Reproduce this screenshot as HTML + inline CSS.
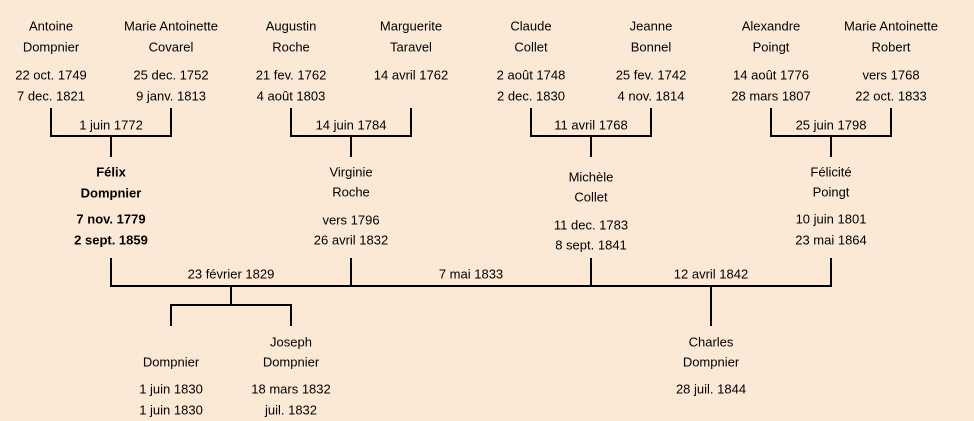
<!DOCTYPE html>
<html><head><meta charset="utf-8"><style>
html,body{margin:0;padding:0;background:#fbe9d6;}
svg{display:block}
text{font-family:"Liberation Sans",sans-serif;font-size:13px;fill:#000;text-anchor:middle;dominant-baseline:central}
.b{font-weight:bold}
</style></head><body>
<svg width="974" height="421" viewBox="0 0 974 421">
<rect width="974" height="421" fill="#fbe9d6"/>
<g stroke="#000" stroke-width="2" fill="none">
<path d="M51 108V136H171V108M111 136V157"/>
<path d="M291 108V136H411V108M351 136V157"/>
<path d="M531 108V136H651V108M591 136V157"/>
<path d="M771 108V136H891V108M831 136V157"/>
<path d="M111 258V286H831V258M351 258V286M591 258V286"/>
<path d="M231 286V305M171 326V305H291V326"/>
<path d="M711 286V326"/>
</g>
<text x="51" y="26">Antoine</text><text x="51" y="47">Dompnier</text>
<text x="51" y="75">22 oct. 1749</text><text x="51" y="96">7 dec. 1821</text>
<text x="171" y="26">Marie Antoinette</text><text x="171" y="47">Covarel</text>
<text x="171" y="75">25 dec. 1752</text><text x="171" y="96">9 janv. 1813</text>
<text x="291" y="26">Augustin</text><text x="291" y="47">Roche</text>
<text x="291" y="75">21 fev. 1762</text><text x="291" y="96">4 août 1803</text>
<text x="411" y="26">Marguerite</text><text x="411" y="47">Taravel</text>
<text x="411" y="75">14 avril 1762</text>
<text x="531" y="26">Claude</text><text x="531" y="47">Collet</text>
<text x="531" y="75">2 août 1748</text><text x="531" y="96">2 dec. 1830</text>
<text x="651" y="26">Jeanne</text><text x="651" y="47">Bonnel</text>
<text x="651" y="75">25 fev. 1742</text><text x="651" y="96">4 nov. 1814</text>
<text x="771" y="26">Alexandre</text><text x="771" y="47">Poingt</text>
<text x="771" y="75">14 août 1776</text><text x="771" y="96">28 mars 1807</text>
<text x="891" y="26">Marie Antoinette</text><text x="891" y="47">Robert</text>
<text x="891" y="75">vers 1768</text><text x="891" y="96">22 oct. 1833</text>
<text x="111" y="125">1 juin 1772</text>
<text x="351" y="125">14 juin 1784</text>
<text x="591" y="125">11 avril 1768</text>
<text x="831" y="125">25 juin 1798</text>
<text class="b" x="111" y="172">Félix</text><text class="b" x="111" y="193">Dompnier</text>
<text class="b" x="111" y="219">7 nov. 1779</text><text class="b" x="111" y="240">2 sept. 1859</text>
<text x="351" y="172">Virginie</text><text x="351" y="192">Roche</text>
<text x="351" y="220">vers 1796</text><text x="351" y="240">26 avril 1832</text>
<text x="591" y="177">Michèle</text><text x="591" y="197">Collet</text>
<text x="591" y="225">11 dec. 1783</text><text x="591" y="245">8 sept. 1841</text>
<text x="831" y="172">Félicité</text><text x="831" y="192">Poingt</text>
<text x="831" y="219">10 juin 1801</text><text x="831" y="240">23 mai 1864</text>
<text x="231" y="274">23 février 1829</text>
<text x="471" y="274">7 mai 1833</text>
<text x="711" y="274">12 avril 1842</text>
<text x="171" y="362">Dompnier</text>
<text x="171" y="389">1 juin 1830</text><text x="171" y="410">1 juin 1830</text>
<text x="291" y="342">Joseph</text><text x="291" y="362">Dompnier</text>
<text x="291" y="389">18 mars 1832</text><text x="291" y="410">juil. 1832</text>
<text x="711" y="342">Charles</text><text x="711" y="362">Dompnier</text>
<text x="711" y="389">28 juil. 1844</text>
</svg>
</body></html>
